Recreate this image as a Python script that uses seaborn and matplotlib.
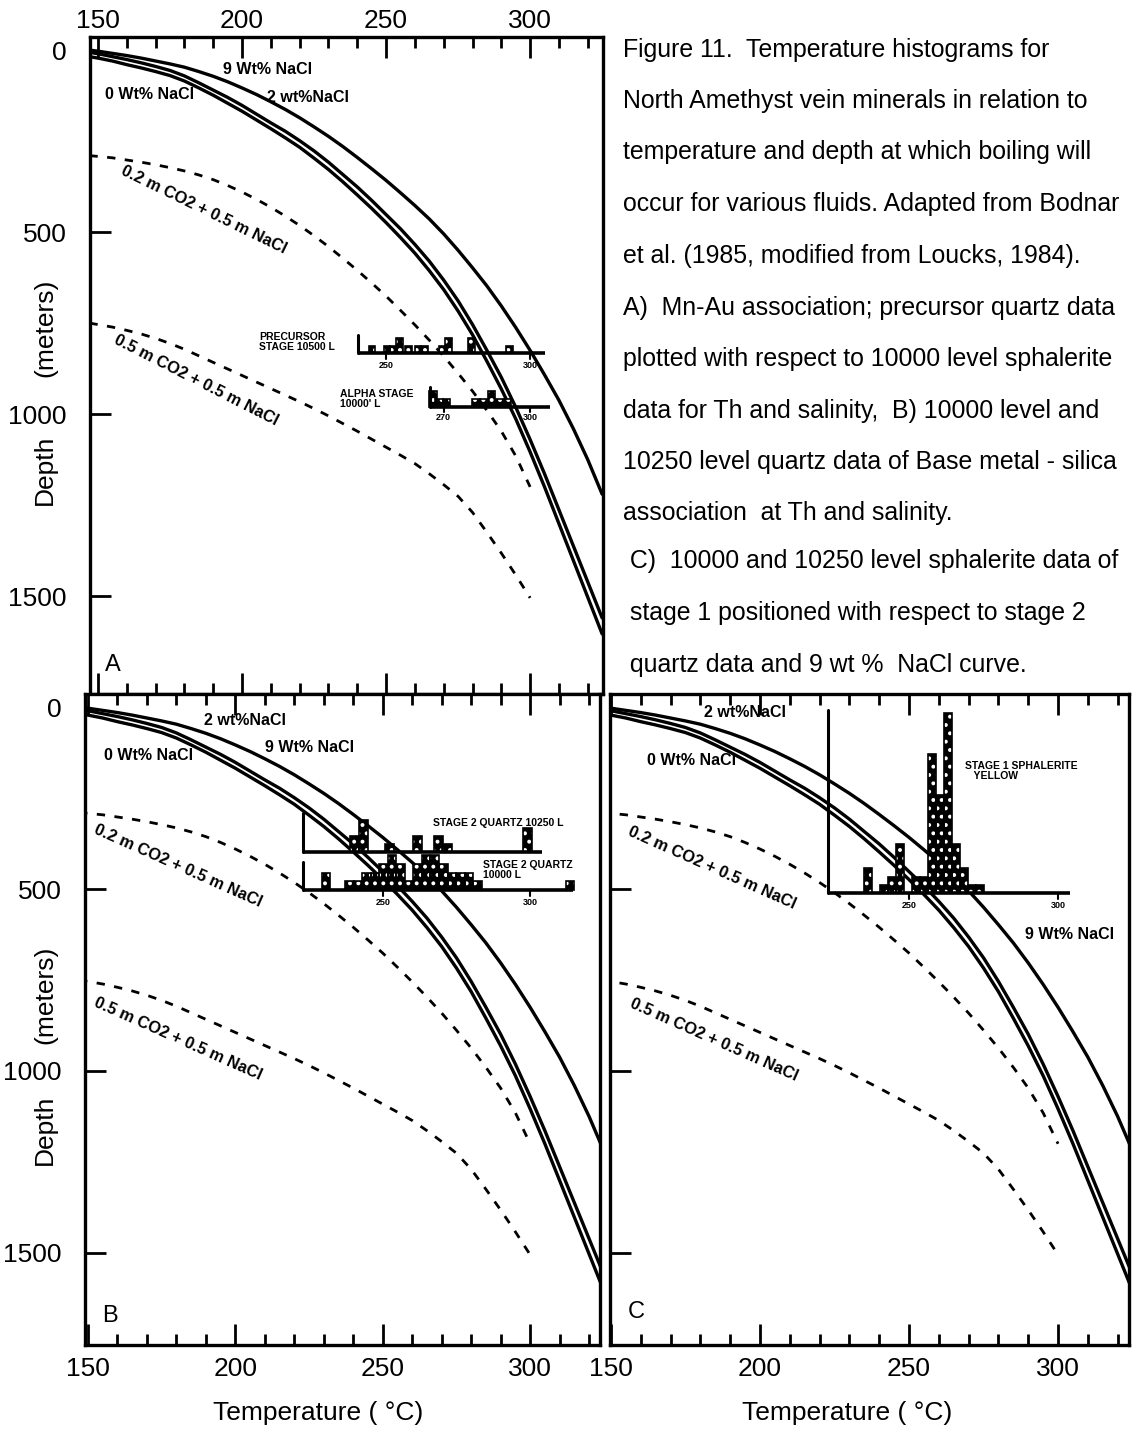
import matplotlib
matplotlib.use("Agg")
import matplotlib.pyplot as plt
from matplotlib.ticker import FixedLocator, NullLocator
import seaborn as sns

# ---------------------------------------------------------------- data
# Boiling curves: depth (m) at which boiling occurs for each temperature (°C)
curve_temp = [147, 150, 155, 160, 165, 170, 175, 180, 185, 190, 195, 200,
              205, 210, 215, 220, 225, 230, 235, 240, 245, 250, 255, 260,
              265, 270, 275, 280, 285, 290, 295, 300, 305, 310, 315, 320,
              325]
depth_9wt = [0, 3, 9, 15, 22, 30, 38, 47, 59, 72, 87, 104,
             122, 142, 163, 186, 211, 237, 265, 295, 326, 358, 392, 427,
             464, 505, 550, 598, 648, 703, 762, 825, 892, 962, 1040, 1125,
             1220]
depth_2wt = [6, 10, 18, 26, 35, 45, 56, 71, 90, 110, 130, 152,
             176, 200, 223, 249, 277, 308, 342, 376, 413, 452, 491, 534,
             580, 632, 689, 754, 825, 899, 981, 1070, 1164, 1263, 1362, 1461,
             1560]
depth_0wt = [18, 22, 30, 40, 49, 59, 70, 85, 104, 124, 146, 168,
             192, 216, 241, 267, 297, 328, 362, 398, 435, 474, 515, 558,
             606, 658, 717, 782, 855, 931, 1013, 1104, 1200, 1301, 1402, 1503,
             1604]

co2_temp = [147, 150, 155, 160, 165, 170, 175, 180, 185, 190, 195, 200,
            205, 210, 215, 220, 225, 230, 235, 240, 245, 250, 255, 260,
            265, 270, 275, 280, 285, 290, 295, 300]
depth_co2_02 = [290, 292, 296, 302, 308, 315, 323, 332, 343, 356, 372, 390,
                410, 432, 456, 482, 510, 540, 572, 605, 640, 676, 715, 755,
                797, 841, 888, 937, 990, 1047, 1115, 1200]
depth_co2_05 = [750, 754, 761, 770, 780, 792, 806, 822, 840, 858, 876, 894,
                912, 930, 948, 966, 985, 1005, 1026, 1047, 1069, 1091, 1113,
                1136, 1164, 1194, 1226, 1270, 1325, 1382, 1442, 1505]

# Homogenisation temperature histograms (bin centre in °C, number of inclusions)
precursor_T = [245.1, 250.3, 252.5, 254.6, 257.8, 261.1, 263.3, 269.5, 271.7,
               279.7, 292.8]
precursor_n = [1, 1, 1, 2, 1, 1, 1, 1, 2, 2, 1]

alpha_T = [266.3, 268.4, 271.0, 281.2, 283.8, 286.6, 289.2, 292.2]
alpha_n = [2, 1, 1, 1, 1, 2, 1, 1]

q10250_T = [240.4, 243.6, 252.4, 261.9, 269.0, 271.8, 299.2]
q10250_n = [2, 4, 1, 2, 2, 1, 3]

q10000_T = [230.8, 238.65, 241.55, 244.45, 247.35, 250.25, 253.15, 256.05,
            258.95, 261.85, 264.75, 267.65, 270.55, 273.45, 276.35, 279.25,
            282.15, 313.5]
q10000_n = [2, 1, 1, 2, 2, 3, 4, 3, 1, 3, 4, 4, 3, 2, 2, 2, 1, 1]

sph_T = [236.15, 238.85, 241.55, 244.25, 246.95, 249.65, 252.35, 255.05,
         257.75, 260.45, 263.15, 265.85, 268.55, 271.25, 273.95]
sph_n = [3, 0, 1, 2, 6, 0, 2, 2, 17, 12, 22, 6, 3, 1, 1]

x_major = [150, 200, 250, 300]
x_minor = [160, 170, 180, 190, 210, 220, 230, 240, 260, 270, 280, 290, 310, 320]
y_major = [0, 500, 1000, 1500]

caption = [
    "Figure 11.  Temperature histograms for",
    "North Amethyst vein minerals in relation to",
    "temperature and depth at which boiling will",
    "occur for various fluids. Adapted from Bodnar",
    "et al. (1985, modified from Loucks, 1984).",
    "A)  Mn-Au association; precursor quartz data",
    "plotted with respect to 10000 level sphalerite",
    "data for Th and salinity,  B) 10000 level and",
    "10250 level quartz data of Base metal - silica",
    "association  at Th and salinity.",
    " C)  10000 and 10250 level sphalerite data of",
    " stage 1 positioned with respect to stage 2",
    " quartz data and 9 wt %  NaCl curve.",
]

# ---------------------------------------------------------------- style
sns.set_style("white")
plt.rcParams["font.family"] = ["Liberation Sans", "DejaVu Sans"]
plt.rcParams["text.color"] = "black"
plt.rcParams["axes.labelcolor"] = "black"
plt.rcParams["xtick.color"] = "black"
plt.rcParams["ytick.color"] = "black"
plt.rcParams["hatch.linewidth"] = 1.6
NARROW = ["Liberation Sans Narrow", "Liberation Sans", "DejaVu Sans"]

W, H = 1134, 1433
fig = plt.figure(figsize=(W / 100, H / 100), dpi=100)
fig.patch.set_facecolor("white")


def px_axes(left, right, top, bottom):
    return fig.add_axes([left / W, (H - bottom) / H, (right - left) / W,
                         (bottom - top) / H])


def draw_curves(ax):
    for depth in (depth_9wt, depth_2wt, depth_0wt):
        sns.lineplot(x=curve_temp, y=depth, ax=ax, color="black", lw=2.4,
                     sort=False, estimator=None, legend=False, zorder=2)
    for depth in (depth_co2_02, depth_co2_05):
        sns.lineplot(x=co2_temp, y=depth, ax=ax, color="black", lw=2.0,
                     sort=False, estimator=None, legend=False, zorder=2,
                     linestyle=(0, (3.0, 3.4)))


def style_axes(ax, xlim, ylim, labeltop=False, labelbottom=False,
               labelleft=False):
    ax.set_xlim(*xlim)
    ax.set_ylim(*ylim)
    ax.set_xlabel("")
    ax.set_ylabel("")
    ax.xaxis.set_major_locator(FixedLocator(x_major))
    ax.xaxis.set_minor_locator(FixedLocator(x_minor))
    ax.yaxis.set_major_locator(FixedLocator(y_major))
    ax.yaxis.set_minor_locator(NullLocator())
    ax.tick_params(axis="x", which="both", direction="in", top=True,
                   bottom=True, labeltop=labeltop, labelbottom=labelbottom,
                   width=2, labelsize=19, color="black")
    ax.tick_params(axis="x", which="major", length=15,
                   pad=3 if labeltop else 9)
    ax.tick_params(axis="x", which="minor", length=8)
    ax.tick_params(axis="y", which="major", direction="in", left=True,
                   right=False, labelleft=labelleft, length=15, width=2,
                   labelsize=19, pad=17)
    # the zero depth label sits at the corner without a tick mark
    ax.yaxis.get_major_ticks()[0].tick1line.set_visible(False)
    for sp in ax.spines.values():
        sp.set_linewidth(2.4)
        sp.set_color("black")
    ax.set_facecolor("white")


def draw_hist(ax, centers, counts, width, unit, base, axis_T, end_T,
              axis_height, labels, label_off, fs=6.5):
    heights = [-c * unit for c in counts]
    ax.bar(centers, heights, width=width, bottom=base, color="black",
           edgecolor="white", hatch="..", linewidth=0, zorder=4)
    ax.bar(centers, heights, width=width, bottom=base, fill=False,
           edgecolor="black", linewidth=1.2, zorder=5)
    ax.plot([axis_T, end_T], [base, base], color="black", lw=2.6, zorder=6,
            solid_capstyle="butt")
    ax.plot([axis_T, axis_T], [base, base - axis_height], color="black",
            lw=2.2, zorder=6)
    for t in labels:
        ax.plot([t, t], [base, base + label_off * 0.45], color="black",
                lw=1.5, zorder=6)
        ax.text(t, base + label_off, str(t), ha="center", va="center",
                fontsize=fs, fontweight="bold", family=NARROW, zorder=6)


def curve_label(ax, x, y, s, rot=0, fs=11.5):
    ax.text(x, y, s, ha="center", va="center", fontsize=fs, rotation=rot,
            rotation_mode="anchor", fontweight="bold", family=NARROW,
            zorder=7)


# ---------------------------------------------------------------- panel A
axA = px_axes(90, 603, 37, 694)
draw_curves(axA)
style_axes(axA, (147.2, 325.3), (1769, -36), labeltop=True, labelleft=True)
curve_label(axA, 208.7, 54, "9 Wt% NaCl")
curve_label(axA, 168.0, 123, "0 Wt% NaCl")
curve_label(axA, 222.9, 129, "2 wt%NaCl")
curve_label(axA, 186.8, 439, "0.2 m CO2 + 0.5 m NaCl", rot=-26, fs=11.8)
curve_label(axA, 184.0, 906, "0.5 m CO2 + 0.5 m NaCl", rot=-27, fs=11.8)
draw_hist(axA, precursor_T, precursor_n, 2.2, 20, 832, 240.3, 305.2, 50,
          [250, 300], 34)
draw_hist(axA, alpha_T, alpha_n, 2.6, 22, 980, 265.3, 306.9, 55,
          [270, 300], 30)
axA.text(206.0, 802, "PRECURSOR\nSTAGE 10500 L", ha="left", va="center",
         fontsize=7.5, fontweight="bold", family=NARROW, linespacing=0.95)
axA.text(234.0, 958, "ALPHA STAGE\n10000' L", ha="left", va="center",
         fontsize=7.5, fontweight="bold", family=NARROW, linespacing=0.95)
axA.text(0.03, 0.044, "A", transform=axA.transAxes, fontsize=17,
         ha="left", va="center")

# ---------------------------------------------------------------- panel B
axB = px_axes(85, 600, 694, 1345)
draw_curves(axB)
style_axes(axB, (149.0, 323.7), (1753, -36), labelbottom=True, labelleft=True)
curve_label(axB, 203.2, 36, "2 wt%NaCl")
curve_label(axB, 225.3, 110, "9 Wt% NaCl")
curve_label(axB, 170.4, 132, "0 Wt% NaCl")
curve_label(axB, 180.5, 437, "0.2 m CO2 + 0.5 m NaCl", rot=-24, fs=11.8)
curve_label(axB, 180.5, 912, "0.5 m CO2 + 0.5 m NaCl", rot=-24, fs=11.8)
draw_hist(axB, q10250_T, q10250_n, 3.1, 22, 398, 222.9, 303.9, 107,
          [], 30)
draw_hist(axB, q10000_T, q10000_n, 2.9, 24, 503, 222.9, 314.4, 77,
          [250, 300], 34)
axB.text(267.0, 319, "STAGE 2 QUARTZ 10250 L", ha="left", va="center",
         fontsize=7.5, fontweight="bold", family=NARROW)
axB.text(284.0, 448, "STAGE 2 QUARTZ\n10000 L", ha="left", va="center",
         fontsize=7.5, fontweight="bold", family=NARROW, linespacing=0.95)
axB.text(0.033, 0.045, "B", transform=axB.transAxes, fontsize=17,
         ha="left", va="center")

# ---------------------------------------------------------------- panel C
axC = px_axes(610, 1129, 694, 1345)
draw_curves(axC)
style_axes(axC, (149.7, 323.8), (1753, -36), labelbottom=True)
curve_label(axC, 195.0, 16, "2 wt%NaCl")
curve_label(axC, 177.2, 146, "0 Wt% NaCl")
curve_label(axC, 304.0, 626, "9 Wt% NaCl")
curve_label(axC, 184.0, 442, "0.2 m CO2 + 0.5 m NaCl", rot=-24, fs=11.8)
curve_label(axC, 184.6, 915, "0.5 m CO2 + 0.5 m NaCl", rot=-24, fs=11.8)
draw_hist(axC, sph_T, sph_n, 2.7, 22.5, 511, 222.9, 304.0, 503,
          [250, 300], 34)
axC.text(268.8, 176, "STAGE 1 SPHALERITE\n   YELLOW", ha="left",
         va="center", fontsize=7.5, fontweight="bold", family=NARROW,
         linespacing=0.95)
axC.text(0.035, 0.05, "C", transform=axC.transAxes, fontsize=17,
         ha="left", va="center")

# ---------------------------------------------------------------- axis titles
# the depth title is split so the "1000" tick label sits in its gap
for y_units, y_depth in ((328, 470), (995, 1130)):
    fig.text(45 / W, (H - y_units) / H, "(meters)", rotation=90,
             ha="center", va="center", fontsize=19)
    fig.text(45 / W, (H - y_depth) / H, "Depth", rotation=90,
             ha="center", va="center", fontsize=19)
for xc in (318, 847):
    fig.text(xc / W, (H - 1413) / H, "Temperature ( °C)", ha="center",
             va="center", fontsize=19)

# ---------------------------------------------------------------- caption
cap_y = [50, 101, 152, 204, 256, 308, 359, 411, 462, 513, 561, 613, 665]
for line, yc in zip(caption, cap_y):
    fig.text(623 / W, (H - yc) / H, line, ha="left", va="center",
             fontsize=17.9)

fig.savefig("out.png", dpi=100, facecolor="white")
